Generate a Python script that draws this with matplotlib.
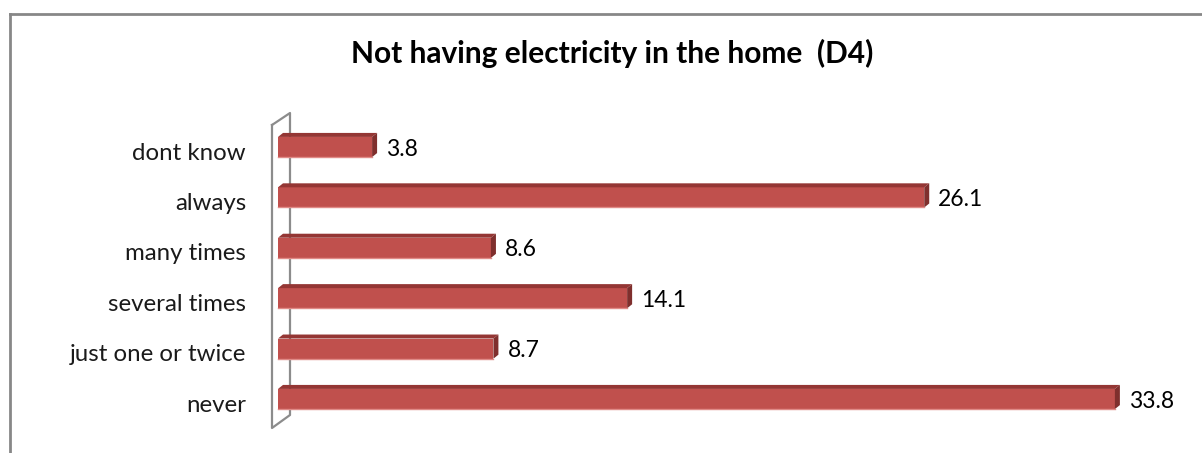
import matplotlib
matplotlib.use("Agg")
import matplotlib.pyplot as plt
from matplotlib.patches import Polygon
from matplotlib.lines import Line2D

title = "Not having electricity in the home  (D4)"
categories = ["never", "just one or twice", "several times", "many times", "always", "dont know"]
values = [33.8, 8.7, 14.1, 8.6, 26.1, 3.8]

W, H = 1202, 453
fig = plt.figure(figsize=(W / 100, H / 100), dpi=100)
fig.patch.set_facecolor("white")

FONT = "Lato"

# axes placement (pixel geometry)
x0_px, px_per_unit = 278, 24.76
xmax = 37
ybot_px, ytop_px = 424.2, 121.8
ax = fig.add_axes([x0_px / W, (H - ybot_px) / H, xmax * px_per_unit / W, (ybot_px - ytop_px) / H])
ax.set_xlim(0, xmax)
ax.set_ylim(-0.5, len(categories) - 0.5)
ax.axis("off")
unit_y = (ybot_px - ytop_px) / len(categories)

def px2x(p):
    return (p - x0_px) / px_per_unit

def px2y(p):
    return (ybot_px - p) / unit_y - 0.5

front = "#C0504D"
topc = "#943634"
side = "#7F2F2D"
wallc = "#8C8C8C"

# 3D wall
wall = [(272, 125), (272, 428), (290, 415), (290, 113), (272, 125)]
ax.add_line(Line2D([px2x(p[0]) for p in wall], [px2y(p[1]) for p in wall],
                   color=wallc, lw=1.6, zorder=1, clip_on=False))

h = 0.4
dx = 5 / px_per_unit
dy = 4 / unit_y
ys = list(range(len(categories)))
ax.barh(ys, values, height=h, color=front, zorder=3, edgecolor="none")
for y, v in zip(ys, values):
    t = y + h / 2
    b = y - h / 2
    ax.add_patch(Polygon([(0, t), (v, t), (v + dx, t + dy), (dx, t + dy)], closed=True,
                         facecolor=topc, edgecolor="none", zorder=4, clip_on=False))
    ax.add_patch(Polygon([(v, b), (v, t), (v + dx, t + dy), (v + dx, b + dy)], closed=True,
                         facecolor=side, edgecolor="none", zorder=4, clip_on=False))
    ax.add_line(Line2D([0, v], [b, b], color="#E08A87", lw=1, zorder=4, clip_on=False))
    ax.text(v + dx + 9 / px_per_unit, y - 0.04, f"{v:.1f}", va="center", ha="left",
            fontsize=16.5, family=FONT, color="black", zorder=5)

for y, c in zip(ys, categories):
    ax.text(px2x(246), y - 0.12, c, va="center", ha="right", fontsize=17.3,
            family=FONT, color="#1a1a1a")

fig.text(612 / W, 1 - 53 / H, title, ha="center", va="center", fontsize=21.5,
         fontweight="bold", family=FONT, color="black")

# outer chart frame (cropped at right/bottom)
fig.add_artist(Line2D([10.5 / W, 10.5 / W], [0, 1 - 13.5 / H], transform=fig.transFigure,
                      color="#878787", lw=2))
fig.add_artist(Line2D([10 / W, 1], [1 - 13.5 / H, 1 - 13.5 / H], transform=fig.transFigure,
                      color="#878787", lw=2))

fig.savefig("out.png", dpi=100, facecolor="white")
